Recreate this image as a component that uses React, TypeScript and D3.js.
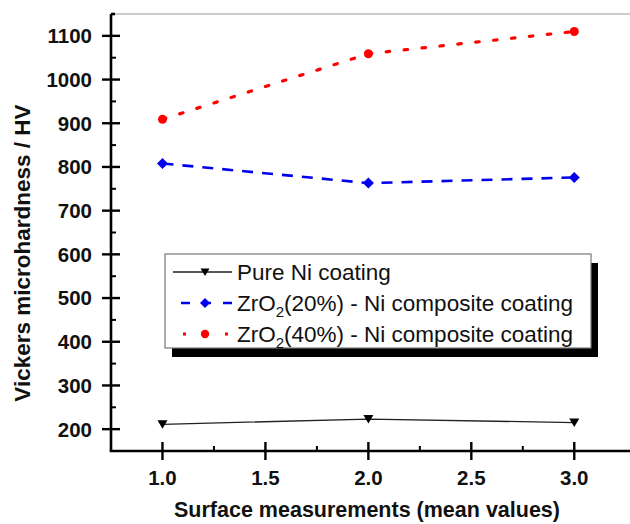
import React from 'react';
import * as d3 from 'd3';

// data
const measurements = [1.0, 2.0, 3.0];
const pureNi = [211, 223, 215];
const zro20 = [808, 763, 776];
const zro40 = [909, 1059, 1110];
const xTicks = [1.0, 1.5, 2.0, 2.5, 3.0];
const xMinor = [1.25, 1.75, 2.25, 2.75];
const yTicks = [200, 300, 400, 500, 600, 700, 800, 900, 1000, 1100];
const yMinor = [250, 350, 450, 550, 650, 750, 850, 950, 1050];

const legendLabels = [
    { base: 'Pure Ni coating', sub: null, rest: null },
    { base: 'ZrO', sub: '2', rest: '(20%) - Ni composite coating' },
    { base: 'ZrO', sub: '2', rest: '(40%) - Ni composite coating' },
];

const W = 630;
const H = 524;
const axis_x = 111;
const axis_top = 14;
const axis_bottom = 451;
const font = 'Arial, "Liberation Sans", Helvetica, sans-serif';

const App = () => {
    const xScale = d3.scaleLinear().domain([0.75, 3.3]).range([axis_x, axis_x + 2.55 * 205.9]);
    const yScale = d3.scaleLinear().domain([150, 1150]).range([axis_bottom, axis_top]);

    const line = d3.line<[number, number]>()
        .x(d => xScale(d[0]))
        .y(d => yScale(d[1]));

    const pts = (vals: number[]) => measurements.map((m, i) => [m, vals[i]] as [number, number]);

    const tri = (x: number, y: number, s = 5) =>
        `M${x - s},${y - s * 0.8}L${x + s},${y - s * 0.8}L${x},${y + s * 0.9}Z`;
    const diamond = (x: number, y: number, s = 5.5) =>
        `M${x},${y - s}L${x + s},${y}L${x},${y + s}L${x - s},${y}Z`;

    // legend
    const lg_x = 165;
    const lg_y = 254;
    const lg_w = 426;
    const lg_h = 94;
    const row_y = [272, 303, 334];
    const sym_x0 = 173;
    const sym_x1 = 232;
    const sym_mid = 205;
    const text_x = 237;

    return (
        <svg width={W} height={H} style={{ position: 'absolute', left: 0, top: 0, background: '#fff' }}
            fontFamily={font}>
            {/* frame top */}
            <line x1={axis_x} x2={W} y1={axis_top} y2={axis_top} stroke="#999" strokeWidth={1.2} />

            {/* series */}
            <path d={line(pts(pureNi)) || ''} fill="none" stroke="#222" strokeWidth={1.3} />
            <path d={line(pts(zro20)) || ''} fill="none" stroke="#0000ee" strokeWidth={2.6} strokeDasharray="11 9" />
            <path d={line(pts(zro40)) || ''} fill="none" stroke="#ff0000" strokeWidth={3.2} strokeDasharray="3.5 14.5" strokeLinecap="round" />

            {measurements.map((m, i) => (
                <g key={'m' + i}>
                    <path d={tri(xScale(m), yScale(pureNi[i]))} fill="#000" />
                    <path d={diamond(xScale(m), yScale(zro20[i]))} fill="#0000ee" />
                    <circle cx={xScale(m)} cy={yScale(zro40[i])} r={4.5} fill="#ff0000" />
                </g>
            ))}

            {/* y axis */}
            <line x1={axis_x} x2={axis_x} y1={axis_top} y2={axis_bottom} stroke="#000" strokeWidth={2.6} />
            <line x1={axis_x} x2={axis_x + 4} y1={axis_top} y2={axis_top} stroke="#000" strokeWidth={2.6} />
            {yTicks.map(t => (
                <g key={'yt' + t}>
                    <line x1={axis_x - 9} x2={axis_x + 9} y1={yScale(t)} y2={yScale(t)} stroke="#000" strokeWidth={2.4} />
                    <text x={92} y={yScale(t)} dy="0.36em" textAnchor="end" fontSize={20.5} fontWeight="bold" fill="#111">{t}</text>
                </g>
            ))}
            {yMinor.map(t => (
                <line key={'ym' + t} x1={axis_x} x2={axis_x + 5} y1={yScale(t)} y2={yScale(t)} stroke="#000" strokeWidth={2} />
            ))}

            {/* x axis */}
            <line x1={axis_x - 1.3} x2={W} y1={axis_bottom} y2={axis_bottom} stroke="#000" strokeWidth={2.6} />
            {xTicks.map(t => (
                <g key={'xt' + t}>
                    <line x1={xScale(t)} x2={xScale(t)} y1={axis_bottom - 9} y2={axis_bottom + 9} stroke="#000" strokeWidth={2.4} />
                    <text x={xScale(t)} y={485} textAnchor="middle" fontSize={20.5} fontWeight="bold" fill="#111">{t.toFixed(1)}</text>
                </g>
            ))}
            {xMinor.map(t => (
                <line key={'xm' + t} x1={xScale(t)} x2={xScale(t)} y1={axis_bottom - 5} y2={axis_bottom} stroke="#000" strokeWidth={2} />
            ))}

            {/* axis titles */}
            <text x={367} y={517} textAnchor="middle" fontSize={21.5} fontWeight="bold" fill="#111">
                Surface measurements (mean values)
            </text>
            <text transform={`translate(30,253) rotate(-90)`} textAnchor="middle" fontSize={22.5} fontWeight="bold" fill="#111">
                Vickers microhardness / HV
            </text>

            {/* legend */}
            <rect x={lg_x + 7} y={lg_y + 9} width={lg_w} height={lg_h} fill="#000" />
            <rect x={lg_x} y={lg_y} width={lg_w} height={lg_h} fill="#fff" stroke="#777" strokeWidth={1.2} />

            <line x1={sym_x0} x2={sym_x1} y1={row_y[0]} y2={row_y[0]} stroke="#222" strokeWidth={1.3} />
            <path d={tri(sym_mid, row_y[0], 4.5)} fill="#000" />

            <line x1={sym_x0 + 8} x2={sym_x1} y1={row_y[1]} y2={row_y[1]} stroke="#0000ee" strokeWidth={2.6} strokeDasharray="9 12" />
            <path d={diamond(sym_mid, row_y[1], 5)} fill="#0000ee" />

            <line x1={sym_x0 + 10} x2={sym_x1} y1={row_y[2]} y2={row_y[2]} stroke="#ff0000" strokeWidth={3} strokeDasharray="3 18" />
            <circle cx={sym_mid} cy={row_y[2]} r={4.2} fill="#ff0000" />

            {legendLabels.map((l, i) => (
                <text key={'lg' + i} x={text_x} y={row_y[i]} dy="0.36em" fontSize={22.5} fill="#111">
                    {l.base}
                    {l.sub && <tspan fontSize={15} dy="6">{l.sub}</tspan>}
                    {l.rest && <tspan dy="-6">{l.rest}</tspan>}
                </text>
            ))}
        </svg>
    );
};

export default App;
